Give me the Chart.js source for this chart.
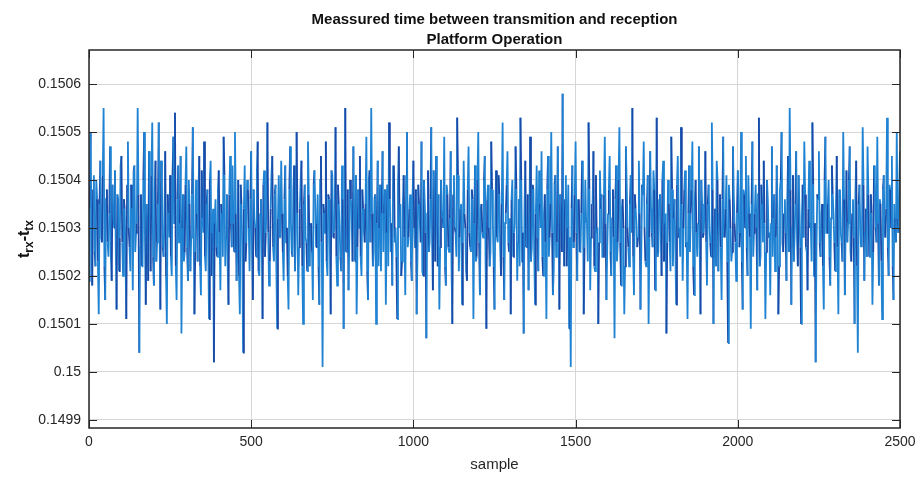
<!DOCTYPE html>
<html>
<head>
<meta charset="utf-8">
<title>Platform Operation</title>
<script src="https://cdn.jsdelivr.net/npm/chart.js@4.4.0/dist/chart.umd.min.js"></script>
<style>
  html, body { margin: 0; padding: 0; background: #fff; }
  #wrap { width: 921px; height: 479px; }
</style>
</head>
<body>
<div id="wrap"><canvas id="grafico" width="921" height="479"></canvas></div>
<script>
// t_rx - t_tx (s); two interleaved lists,
// the first at samples 0, 5, 10 ... and the second at 2.5, 7.5, 12.5 ...
const sampleStep = 2.5;
const delayEven = [
  0.15019,0.15050,0.15018,0.15041,0.15022,0.15036,0.15012,0.15044,0.15027,0.15055,0.15015,0.15038,0.15024,0.15047,0.15019,0.15033,0.15042,0.15013,0.15036,0.15028,
  0.15045,0.15020,0.15034,0.15011,0.15048,0.15026,0.15039,0.15017,0.15043,0.15029,0.15055,0.15004,0.15037,0.15022,0.15050,0.15014,0.15031,0.15046,0.15021,0.15052,
  0.15018,0.15044,0.15027,0.15052,0.15013,0.15038,0.15024,0.15046,0.15010,0.15033,0.15041,0.15020,0.15049,0.15054,0.15015,0.15043,0.15031,0.15008,0.15037,0.15025,
  0.15047,0.15019,0.15035,0.15028,0.15051,0.15012,0.15040,0.15023,0.15045,0.15016,0.15032,0.15048,0.15021,0.15038,0.15011,0.15044,0.15029,0.15002,0.15036,0.15024,
  0.15042,0.15017,0.15033,0.15049,0.15022,0.15037,0.15014,0.15045,0.15026,0.15031,0.15050,0.15019,0.15040,0.15012,0.15035,0.15004,0.15043,0.15027,0.15038,0.15021,
  0.15046,0.15015,0.15032,0.15024,0.15048,0.15020,0.15036,0.15011,0.15042,0.15029,0.15052,0.15018,0.15034,0.15045,0.15023,0.15039,0.15009,0.15041,0.15028,0.15033,
  0.15019,0.15043,0.15030,0.15013,0.15047,0.15025,0.15038,0.15021,0.15050,0.15016,0.15034,0.15044,0.15010,0.15039,0.15027,0.15048,0.15022,0.15031,0.15015,0.15042,
  0.15026,0.15037,0.15014,0.15045,0.15001,0.15033,0.15048,0.15020,0.15036,0.15012,0.15041,0.15029,0.15051,0.15018,0.15035,0.15024,0.15043,0.15009,0.15055,0.15028,
  0.15017,0.15040,0.15031,0.15047,0.15023,0.15012,0.15038,0.15045,0.15020,0.15034,0.15027,0.15049,0.15015,0.15042,0.15055,0.15022,0.15036,0.15010,0.15044,0.15030,
  0.15021,0.15046,0.15033,0.15014,0.15039,0.15052,0.15025,0.15018,0.15043,0.15030,0.15011,0.15047,0.15035,0.15023,0.15041,0.15016,0.15050,0.15028,0.15037,0.15019,
  0.15044,0.15026,0.15012,0.15039,0.15031,0.15048,0.15020,0.15035,0.15007,0.15042,0.15027,0.15051,0.15017,0.15036,0.15045,0.15022,0.15013,0.15040,0.15032,0.15049,
  0.15018,0.15037,0.15025,0.15046,0.15010,0.15041,0.15029,0.15053,0.15021,0.15034,0.15014,0.15044,0.15030,0.15019,0.15047,0.15026,0.15038,0.15011,0.15043,0.15024,
  0.15050,0.15016,0.15035,0.15028,0.15045,0.15009,0.15039,0.15022,0.15048,0.15031,0.15013,0.15042,0.15027,0.15037,0.15020,0.15052,0.15015,0.15033,0.15046,0.15025,
  0.15012,0.15040,0.15029,0.15047,0.15019,0.15036,0.15053,0.15023,0.15008,0.15044,0.15031,0.15017,0.15049,0.15026,0.15038,0.15014,0.15043,0.15021,0.15035,0.15046,
  0.15020,0.15037,0.15011,0.15045,0.15028,0.15050,0.15016,0.15039,0.15024,0.15047,0.15013,0.15034,0.15058,0.15022,0.15041,0.15030,0.15009,0.15001,0.15043,0.15027,
  0.15048,0.15019,0.15036,0.15025,0.15044,0.15012,0.15040,0.15031,0.15052,0.15017,0.15035,0.15046,0.15021,0.15029,0.15010,0.15042,0.15037,0.15024,0.15049,0.15015,
  0.15033,0.15045,0.15020,0.15038,0.15007,0.15043,0.15027,0.15051,0.15018,0.15036,0.15012,0.15047,0.15030,0.15022,0.15041,0.15055,0.15016,0.15034,0.15026,0.15044,
  0.15013,0.15039,0.15048,0.15023,0.15035,0.15010,0.15046,0.15029,0.15042,0.15017,0.15053,0.15025,0.15037,0.15020,0.15044,0.15031,0.15008,0.15040,0.15027,0.15049,
  0.15022,0.15036,0.15014,0.15045,0.15030,0.15051,0.15019,0.15038,0.15026,0.15011,0.15043,0.15033,0.15048,0.15016,0.15040,0.15024,0.15047,0.15012,0.15035,0.15029,
  0.15046,0.15018,0.15039,0.15027,0.15052,0.15010,0.15034,0.15044,0.15021,0.15037,0.15015,0.15049,0.15028,0.15041,0.15006,0.15036,0.15023,0.15047,0.15031,0.15019,
  0.15042,0.15026,0.15050,0.15013,0.15037,0.15045,0.15020,0.15033,0.15009,0.15048,0.15029,0.15039,0.15017,0.15053,0.15024,0.15035,0.15044,0.15011,0.15040,0.15028,
  0.15016,0.15047,0.15032,0.15021,0.15043,0.15012,0.15038,0.15050,0.15025,0.15036,0.15019,0.15045,0.15055,0.15014,0.15041,0.15028,0.15046,0.15022,0.15034,0.15010,
  0.15039,0.15048,0.15026,0.15017,0.15044,0.15031,0.15052,0.15020,0.15002,0.15037,0.15046,0.15024,0.15035,0.15013,0.15049,0.15029,0.15040,0.15018,0.15043,0.15033,
  0.15021,0.15045,0.15012,0.15038,0.15027,0.15050,0.15016,0.15042,0.15031,0.15047,0.15023,0.15036,0.15010,0.15044,0.15004,0.15039,0.15026,0.15051,0.15019,0.15034,
  0.15047,0.15024,0.15037,0.15014,0.15043,0.15030,0.15049,0.15018,0.15035,0.15011,0.15041,0.15028,0.15053,0.15020,0.15038,0.15045,0.15015,0.15032,0.15050,0.15029,
  0.15046
];
const delayOdd = [
  0.15034,0.15029,0.15038,0.15025,0.15040,0.15023,0.15035,0.15028,0.15041,0.15022,0.15036,0.15027,0.15033,0.15024,0.15039,0.15030,0.15026,0.15037,0.15021,0.15043,
  0.15027,0.15036,0.15024,0.15039,0.15030,0.15021,0.15034,0.15042,0.15025,0.15031,0.15037,0.15026,0.15022,0.15040,0.15028,0.15035,0.15019,0.15033,0.15041,0.15024,
  0.15038,0.15023,0.15035,0.15029,0.15044,0.15026,0.15032,0.15020,0.15037,0.15028,0.15024,0.15041,0.15031,0.15022,0.15036,0.15027,0.15045,0.15030,0.15023,0.15039,
  0.15026,0.15040,0.15021,0.15037,0.15030,0.15025,0.15033,0.15038,0.15022,0.15042,0.15029,0.15024,0.15035,0.15027,0.15040,0.15020,0.15034,0.15031,0.15026,0.15038,
  0.15029,0.15035,0.15024,0.15041,0.15028,0.15022,0.15037,0.15031,0.15043,0.15025,0.15033,0.15027,0.15020,0.15039,0.15026,0.15034,0.15023,0.15040,0.15030,0.15036,
  0.15025,0.15038,0.15030,0.15042,0.15021,0.15033,0.15027,0.15039,0.15024,0.15035,0.15029,0.15023,0.15041,0.15026,0.15037,0.15022,0.15032,0.15028,0.15044,0.15025,
  0.15036,0.15027,0.15020,0.15038,0.15031,0.15024,0.15043,0.15029,0.15033,0.15026,0.15040,0.15022,0.15035,0.15028,0.15021,0.15037,0.15030,0.15025,0.15039,0.15034,
  0.15031,0.15022,0.15040,0.15027,0.15035,0.15029,0.15023,0.15037,0.15026,0.15042,0.15028,0.15034,0.15024,0.15039,0.15030,0.15021,0.15036,0.15033,0.15025,0.15038,
  0.15028,0.15036,0.15023,0.15032,0.15041,0.15026,0.15030,0.15024,0.15038,0.15029,0.15035,0.15021,0.15040,0.15027,0.15033,0.15025,0.15037,0.15031,0.15022,0.15039,
  0.15033,0.15025,0.15038,0.15029,0.15022,0.15036,0.15031,0.15043,0.15027,0.15024,0.15039,0.15030,0.15020,0.15035,0.15028,0.15041,0.15026,0.15034,0.15023,0.15037,
  0.15030,0.15038,0.15024,0.15035,0.15027,0.15021,0.15040,0.15029,0.15033,0.15025,0.15036,0.15028,0.15042,0.15023,0.15031,0.15037,0.15026,0.15034,0.15030,0.15022,
  0.15039,0.15026,0.15032,0.15022,0.15037,0.15030,0.15024,0.15041,0.15028,0.15035,0.15027,0.15033,0.15021,0.15038,0.15029,0.15025,0.15036,0.15031,0.15023,0.15040,
  0.15027,0.15034,0.15029,0.15040,0.15023,0.15036,0.15030,0.15025,0.15038,0.15022,0.15033,0.15028,0.15041,0.15026,0.15035,0.15024,0.15031,0.15039,0.15027,0.15032,
  0.15036,0.15024,0.15031,0.15038,0.15027,0.15022,0.15040,0.15029,0.15034,0.15026,0.15037,0.15030,0.15023,0.15039,0.15025,0.15033,0.15028,0.15042,0.15030,0.15024,
  0.15033,0.15027,0.15038,0.15024,0.15035,0.15029,0.15021,0.15041,0.15027,0.15032,0.15037,0.15025,0.15030,0.15036,0.15022,0.15039,0.15028,0.15034,0.15026,0.15037,
  0.15029,0.15036,0.15025,0.15033,0.15040,0.15026,0.15031,0.15023,0.15038,0.15028,0.15035,0.15022,0.15041,0.15030,0.15027,0.15034,0.15024,0.15037,0.15031,0.15026,
  0.15038,0.15025,0.15032,0.15028,0.15036,0.15023,0.15040,0.15027,0.15034,0.15030,0.15022,0.15039,0.15026,0.15035,0.15029,0.15024,0.15037,0.15031,0.15028,0.15033,
  0.15025,0.15037,0.15030,0.15022,0.15041,0.15028,0.15034,0.15026,0.15038,0.15031,0.15024,0.15036,0.15029,0.15040,0.15023,0.15033,0.15027,0.15035,0.15021,0.15038,
  0.15032,0.15026,0.15039,0.15028,0.15024,0.15035,0.15030,0.15042,0.15027,0.15033,0.15025,0.15038,0.15022,0.15036,0.15029,0.15031,0.15026,0.15040,0.15028,0.15034,
  0.15027,0.15035,0.15031,0.15024,0.15038,0.15029,0.15022,0.15040,0.15033,0.15026,0.15036,0.15028,0.15034,0.15023,0.15039,0.15030,0.15025,0.15037,0.15027,0.15033,
  0.15036,0.15029,0.15023,0.15038,0.15030,0.15026,0.15041,0.15028,0.15035,0.15024,0.15033,0.15030,0.15037,0.15022,0.15039,0.15027,0.15031,0.15025,0.15036,0.15029,
  0.15031,0.15024,0.15037,0.15028,0.15034,0.15022,0.15040,0.15027,0.15033,0.15029,0.15036,0.15025,0.15038,0.15030,0.15023,0.15035,0.15028,0.15041,0.15026,0.15032,
  0.15028,0.15037,0.15025,0.15034,0.15030,0.15023,0.15039,0.15031,0.15026,0.15036,0.15027,0.15033,0.15022,0.15040,0.15029,0.15035,0.15024,0.15032,0.15037,0.15027,
  0.15034,0.15026,0.15038,0.15029,0.15023,0.15036,0.15031,0.15027,0.15040,0.15025,0.15033,0.15028,0.15037,0.15022,0.15035,0.15030,0.15026,0.15039,0.15029,0.15024,
  0.15037,0.15028,0.15033,0.15025,0.15040,0.15027,0.15031,0.15036,0.15023,0.15038,0.15029,0.15034,0.15026,0.15039,0.15030,0.15022,0.15035,0.15027,0.15032,0.15038
];

const xTicks = [0, 500, 1000, 1500, 2000, 2500];
const yTicks = [0.1499, 0.15, 0.1501, 0.1502, 0.1503, 0.1504, 0.1505, 0.1506];
const titleLines = ["Meassured time between transmition and reception", "Platform Operation"];
const xLabel = "sample";

const fuente = "'Liberation Sans', Arial, Helvetica, sans-serif";
const azulClaro = "#1f82d2";
const azulOscuro = "#1a4aa8";

// serie completa: intercala las dos listas
const serie = [];
delayEven.forEach((v, i) => {
  serie.push(v);
  if (i < delayOdd.length) serie.push(delayOdd[i]);
});

// titulo, etiqueta del eje y con subindices, caja y marcas hacia dentro (estilo MATLAB)
const decoMatlab = {
  id: "decoMatlab",
  afterDraw(chart) {
    const { ctx, chartArea: a, scales: { x, y } } = chart;
    ctx.save();

    ctx.strokeStyle = "#262626";
    ctx.lineWidth = 1;
    ctx.beginPath();
    xTicks.forEach(v => {
      const px = Math.round(x.getPixelForValue(v)) + 0.5;
      ctx.moveTo(px, a.bottom); ctx.lineTo(px, a.bottom - 8);
      ctx.moveTo(px, a.top); ctx.lineTo(px, a.top + 8);
    });
    yTicks.forEach(v => {
      const py = Math.round(y.getPixelForValue(v)) + 0.5;
      ctx.moveTo(a.left, py); ctx.lineTo(a.left + 8, py);
      ctx.moveTo(a.right, py); ctx.lineTo(a.right - 8, py);
    });
    ctx.stroke();

    ctx.lineWidth = 1.5;
    ctx.strokeRect(a.left, a.top, a.right - a.left, a.bottom - a.top);

    // titulo
    const cx = (a.left + a.right) / 2;
    ctx.fillStyle = "#111";
    ctx.textAlign = "center";
    ctx.textBaseline = "alphabetic";
    ctx.font = "bold 15px " + fuente;
    ctx.fillText(titleLines[0], cx, 24);
    ctx.fillText(titleLines[1], cx, 44);

    // etiqueta eje x
    ctx.font = "15px " + fuente;
    ctx.fillStyle = "#262626";
    ctx.textBaseline = "middle";
    ctx.fillText(xLabel, cx, 465);

    // etiqueta eje y: t_rx - t_tx
    const partes = [
      { t: "t", sub: false }, { t: "rx", sub: true },
      { t: "-t", sub: false }, { t: "tx", sub: true }
    ];
    const fGrande = "bold 16px " + fuente;
    const fPeque = "bold 12px " + fuente;
    let total = 0;
    partes.forEach(p => { ctx.font = p.sub ? fPeque : fGrande; p.w = ctx.measureText(p.t).width; total += p.w; });
    ctx.translate(24, (a.top + a.bottom) / 2);
    ctx.rotate(-Math.PI / 2);
    ctx.textAlign = "left";
    ctx.textBaseline = "alphabetic";
    ctx.fillStyle = "#111";
    let pos = -total / 2;
    partes.forEach(p => {
      ctx.font = p.sub ? fPeque : fGrande;
      ctx.fillText(p.t, pos, p.sub ? 9 : 5);
      pos += p.w;
    });
    ctx.restore();
  }
};

const ctx = document.getElementById("grafico").getContext("2d");

new Chart(ctx, {
  type: "line",
  data: {
    datasets: [{
      label: "t_rx - t_tx",
      data: serie.map((v, i) => ({ x: i * sampleStep, y: v })),
      borderColor: azulClaro,
      borderWidth: 1.8,
      pointRadius: 0,
      tension: 0,
      segment: {
        borderColor: c => (c.p0DataIndex % 3 === 1 ? azulOscuro : azulClaro)
      }
    }]
  },
  options: {
    responsive: false,
    animation: false,
    layout: { padding: { top: 50, right: 21, left: 0, bottom: 0 } },
    plugins: {
      legend: { display: false },
      title: { display: false },
      tooltip: { enabled: false }
    },
    scales: {
      x: {
        type: "linear",
        min: 0,
        max: 2500,
        afterBuildTicks: s => { s.ticks = xTicks.map(v => ({ value: v })); },
        afterFit: s => { s.height = 51; s.paddingLeft = 0; s.paddingRight = 0; },
        grid: { color: "#d6d6d6", lineWidth: 1, drawTicks: false },
        border: { display: false },
        ticks: {
          padding: 6,
          color: "#262626",
          font: { family: fuente, size: 14 },
          maxRotation: 0,
          callback: v => String(v)
        }
      },
      y: {
        type: "linear",
        min: 0.149883,
        max: 0.150671,
        afterBuildTicks: s => { s.ticks = yTicks.map(v => ({ value: v })); },
        afterFit: s => { s.width = 89; },
        grid: { color: "#d6d6d6", lineWidth: 1, drawTicks: false },
        border: { display: false },
        ticks: {
          padding: 8,
          color: "#262626",
          font: { family: fuente, size: 14 },
          callback: v => String(Number(v.toFixed(4)))
        }
      }
    }
  },
  plugins: [decoMatlab]
});
</script>
</body>
</html>
